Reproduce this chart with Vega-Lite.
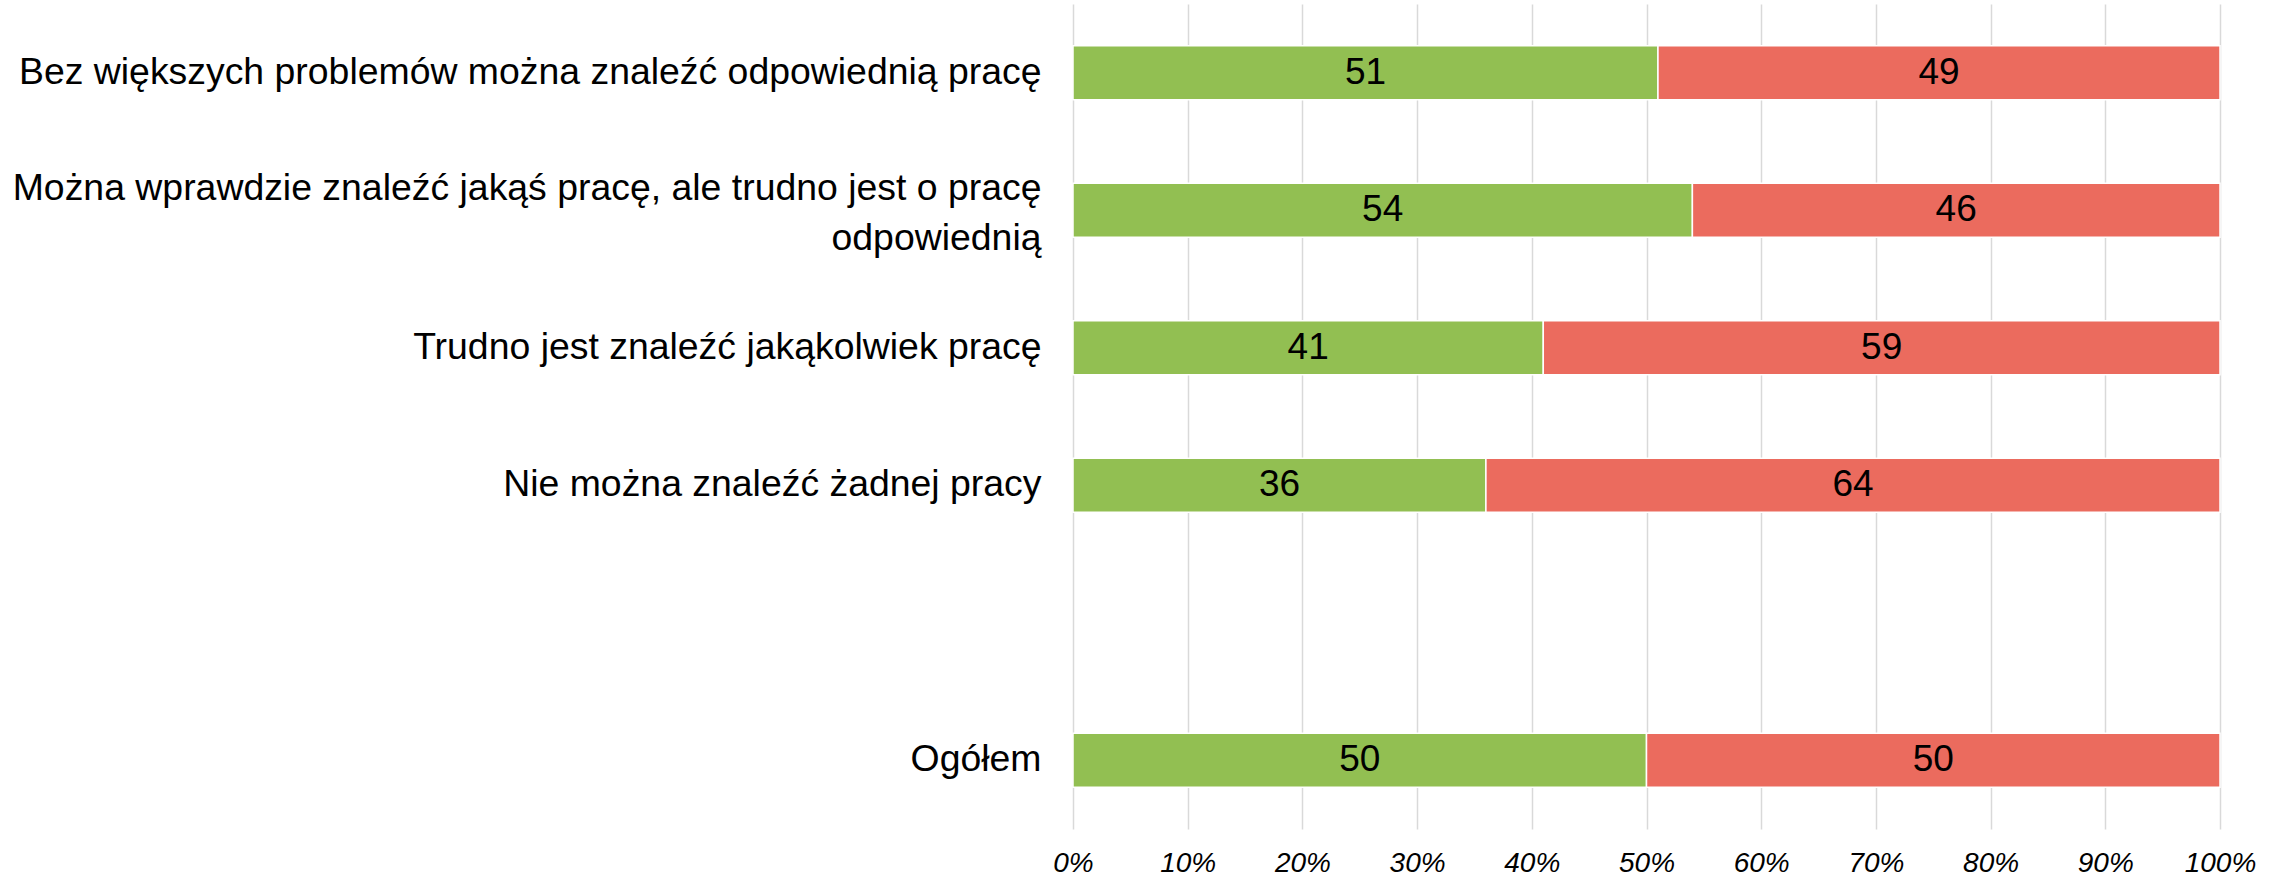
{
  "$schema": "https://vega.github.io/schema/vega-lite/v6.json",
  "autosize": {"type": "none"},
  "width": 1147,
  "height": 825,
  "padding": {"left": 1073, "top": 4, "right": 64, "bottom": 49},
  "background": "white",
  "config": {
    "view": {"stroke": null},
    "font": "Liberation Sans"
  },
  "data": {
    "values": [
      {"kategoria": "Bez większych problemów można znaleźć odpowiednią pracę", "odpowiedz": "Tak", "procent": 51},
      {"kategoria": "Bez większych problemów można znaleźć odpowiednią pracę", "odpowiedz": "Nie", "procent": 49},
      {"kategoria": "Można wprawdzie znaleźć jakąś pracę, ale trudno jest o pracę|odpowiednią", "odpowiedz": "Tak", "procent": 54},
      {"kategoria": "Można wprawdzie znaleźć jakąś pracę, ale trudno jest o pracę|odpowiednią", "odpowiedz": "Nie", "procent": 46},
      {"kategoria": "Trudno jest znaleźć jakąkolwiek pracę", "odpowiedz": "Tak", "procent": 41},
      {"kategoria": "Trudno jest znaleźć jakąkolwiek pracę", "odpowiedz": "Nie", "procent": 59},
      {"kategoria": "Nie można znaleźć żadnej pracy", "odpowiedz": "Tak", "procent": 36},
      {"kategoria": "Nie można znaleźć żadnej pracy", "odpowiedz": "Nie", "procent": 64},
      {"kategoria": "Ogółem", "odpowiedz": "Tak", "procent": 50},
      {"kategoria": "Ogółem", "odpowiedz": "Nie", "procent": 50}
    ]
  },
  "encoding": {
    "y": {
      "field": "kategoria",
      "type": "nominal",
      "scale": {
        "domain": [
          "Bez większych problemów można znaleźć odpowiednią pracę",
          "Można wprawdzie znaleźć jakąś pracę, ale trudno jest o pracę|odpowiednią",
          "Trudno jest znaleźć jakąkolwiek pracę",
          "Nie można znaleźć żadnej pracy",
          " ",
          "Ogółem"
        ],
        "paddingInner": 0,
        "paddingOuter": 0
      },
      "axis": {
        "title": null,
        "domain": false,
        "ticks": false,
        "labelPadding": 32,
        "labelFontSize": 37.4,
        "labelColor": "#000000",
        "labelLimit": 1100,
        "labelLineHeight": 50,
        "labelExpr": "split(datum.label, '|')",
        "labelOffset": {
          "condition": {"test": "indexof(datum.value, '|') >= 0", "value": -21},
          "value": 0
        }
      }
    }
  },
  "layer": [
    {
      "mark": {"type": "bar", "size": 54, "stroke": "white", "strokeWidth": 1.5},
      "encoding": {
        "x": {
          "field": "procent",
          "type": "quantitative",
          "stack": "zero",
          "scale": {"domain": [0, 100], "nice": false},
          "axis": {
            "title": null,
            "domain": false,
            "ticks": false,
            "values": [0, 10, 20, 30, 40, 50, 60, 70, 80, 90, 100],
            "labelExpr": "datum.value + '%'",
            "labelFontSize": 28,
            "labelFontStyle": "italic",
            "labelColor": "#000000",
            "labelPadding": 20,
            "labelFlush": false,
            "labelOverlap": false,
            "grid": true,
            "gridColor": "#D9D9D9",
            "gridWidth": 1.5
          }
        },
        "color": {
          "field": "odpowiedz",
          "type": "nominal",
          "scale": {"domain": ["Tak", "Nie"], "range": ["#92BF52", "#EB6B5E"]},
          "legend": null
        },
        "order": {"field": "odpowiedz", "sort": "descending"}
      }
    },
    {
      "mark": {"type": "text", "fontSize": 37, "color": "#000000", "baseline": "middle", "align": "center"},
      "encoding": {
        "x": {
          "field": "procent",
          "type": "quantitative",
          "stack": "zero",
          "bandPosition": 0.5
        },
        "detail": {"field": "odpowiedz", "type": "nominal"},
        "order": {"field": "odpowiedz", "sort": "descending"},
        "text": {"field": "procent", "type": "quantitative"}
      }
    }
  ]
}
